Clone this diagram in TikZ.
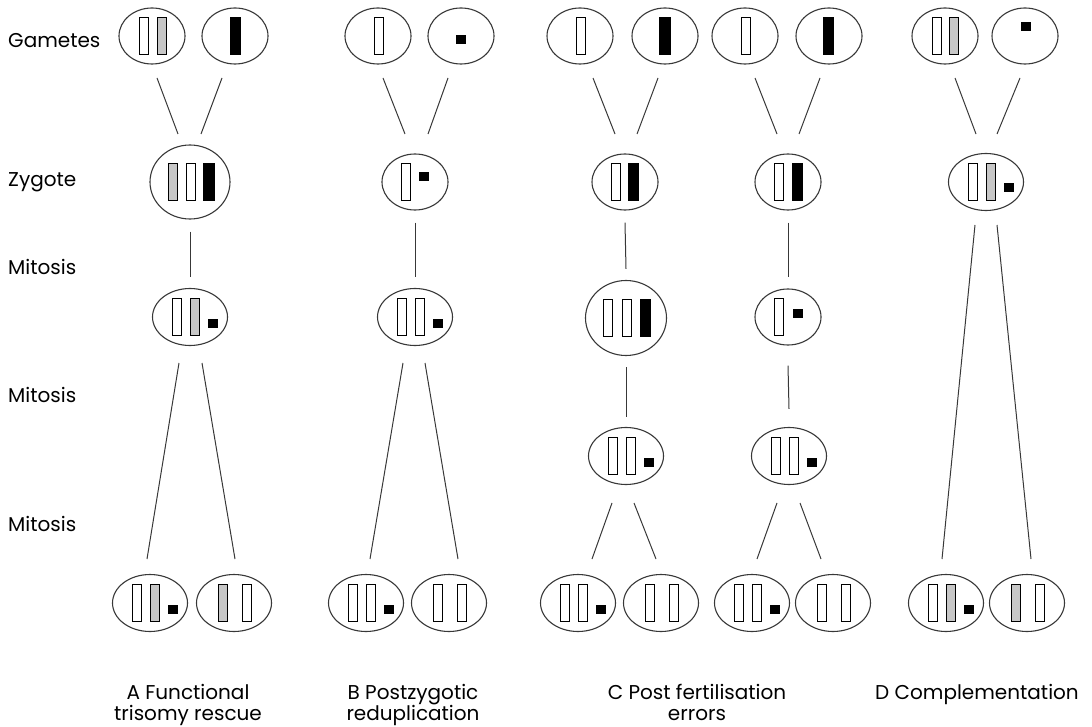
\documentclass[tikz,border=0pt]{standalone}
\usepackage{fontspec}
\setmainfont{Poppins}
\usetikzlibrary{calc, positioning, shapes.geometric}
\definecolor{LineGray}{gray}{0.22}
\definecolor{ChrGray}{gray}{0.78}

\begin{document}
\begin{tikzpicture}[x = 1pt, y = -1pt]%
    %
    \def\chrheight{37pt}%
    \def\chrwidth{9pt}%
    \def\labelsize{\fontsize{20}{21}\selectfont}%
    %
    \tikzstyle{cell} = [ellipse, draw = LineGray, line width = 1.1pt, inner sep = 0pt, minimum width = 75pt, minimum height = 57pt]%
    \tikzstyle{smallcell} = [cell, minimum width = 66pt, minimum height = 56pt]%
    \tikzstyle{bigcell} = [cell, minimum width = 81pt, minimum height = 75pt]%
    \tikzstyle{chr} = [rectangle, draw = black, line width = .9pt, inner sep = 0pt, minimum width = \chrwidth, minimum height = \chrheight, fill = white]%
    \tikzstyle{chrG} = [chr, fill = ChrGray]%
    \tikzstyle{chrK} = [chr, fill = black, minimum width = 10.5pt]%
    \tikzstyle{dot} = [rectangle, fill = black, inner sep = 0pt, minimum width = 10pt, minimum height = 9pt]%
    \tikzstyle{link} = [draw = LineGray, line width = 1pt]%
    \tikzstyle{rowlabel} = [anchor = base west, inner sep = 0pt, font = \labelsize]%
    \tikzstyle{caption} = [anchor = base, align = center, inner sep = 0pt, font = \labelsize]%
    %
    \useasboundingbox (0, 0) rectangle (1092, 727);%
    %
    % Row labels
    \node (lGametes) [rowlabel] at (8, 48) {Gametes};%
    \node (lZygote) [rowlabel] at (8, 187) {Zygote};%
    \node (lMitosisA) [rowlabel] at (8, 275) {Mitosis};%
    \node (lMitosisB) [rowlabel] at (8, 402) {Mitosis};%
    \node (lMitosisC) [rowlabel] at (8, 531) {Mitosis};%
    %
    % Gametes
    \node (gA1) [smallcell] at (152, 36) {};%
    \node (gA2) [smallcell] at (235, 36) {};%
    \node (gB1) [smallcell] at (378, 36) {};%
    \node (gB2) [smallcell] at (461, 36) {};%
    \node (gC1) [smallcell] at (580, 36) {};%
    \node (gC2) [smallcell] at (665, 36) {};%
    \node (gC3) [smallcell] at (745, 36) {};%
    \node (gC4) [smallcell] at (829, 36) {};%
    \node (gD1) [smallcell] at (945, 36) {};%
    \node (gD2) [smallcell] at (1025, 36) {};%
    %
    \node [chr] at ($(gA1)+(-8.5, 0)$) {};%
    \node [chrG] at ($(gA1)+(10, 0)$) {};%
    \node [chrK] at ($(gA2)+(0.5, 0)$) {};%
    \node [chr] at ($(gB1)+(0.5, 0)$) {};%
    \node [dot] at ($(gB2)+(0, 4)$) {};%
    \node [chr] at ($(gC1)+(1, 0)$) {};%
    \node [chrK] at ($(gC2)+(0, 0)$) {};%
    \node [chr] at ($(gC3)+(0.5, 0)$) {};%
    \node [chrK] at ($(gC4)+(-0.5, 0)$) {};%
    \node [chr] at ($(gD1)+(-8, 0)$) {};%
    \node [chrG] at ($(gD1)+(9, 0)$) {};%
    \node [dot] at ($(gD2)+(0.5, -9)$) {};%
    %
    % Zygotes
    \node (zA) [bigcell, minimum width = 80pt, minimum height = 74pt] at (190, 182) {};%
    \node (zB) [smallcell] at (415, 182) {};%
    \node (zC1) [smallcell] at (625, 182) {};%
    \node (zC2) [smallcell] at (788, 182) {};%
    \node (zD) [cell] at (986, 182) {};%
    %
    \node [chrG] at ($(zA)+(-17.5, 0)$) {};%
    \node [chr] at ($(zA)+(1, 0)$) {};%
    \node [chrK] at ($(zA)+(19, 0)$) {};%
    \node [chr] at ($(zB)+(-9, 0)$) {};%
    \node [dot] at ($(zB)+(9, -5)$) {};%
    \node [chr] at ($(zC1)+(-9, 0)$) {};%
    \node [chrK] at ($(zC1)+(8.5, 0)$) {};%
    \node [chr] at ($(zC2)+(-9, 0)$) {};%
    \node [chrK] at ($(zC2)+(9.5, 0)$) {};%
    %
    % First mitosis
    \node (mA) [cell] at (190, 317) {};%
    \node (mB) [cell] at (415, 317) {};%
    \node (mC1) [bigcell] at (626, 318) {};%
    \node (mC2) [smallcell] at (788, 317) {};%
    %
    \node [chr] at ($(mC1)+(-18, 0)$) {};%
    \node [chr] at ($(mC1)+(1, 0)$) {};%
    \node [chrK] at ($(mC1)+(19.5, 0)$) {};%
    \node [chr] at ($(mC2)+(-9, 0)$) {};%
    \node [dot] at ($(mC2)+(9.5, -4)$) {};%
    %
    % Second mitosis
    \node (nC1) [cell] at (626, 456) {};%
    \node (nC2) [cell] at (789, 456) {};%
    %
    % Daughter cells
    \node (bA1) [cell] at (150, 603) {};%
    \node (bA2) [cell] at (234, 603) {};%
    \node (bB1) [cell] at (366, 603) {};%
    \node (bB2) [cell] at (449, 603) {};%
    \node (bC1) [cell] at (578, 603) {};%
    \node (bC2) [cell] at (661, 603) {};%
    \node (bC3) [cell] at (752, 603) {};%
    \node (bC4) [cell] at (833, 603) {};%
    \node (bD1) [cell] at (946, 603) {};%
    \node (bD2) [cell] at (1027, 603) {};%
    %
    % Two chromosomes and a fragment
    \foreach \c/\f in {zD/ChrGray, mA/ChrGray, mB/white, nC1/white, nC2/white, bA1/ChrGray, bB1/white, bC1/white, bC3/white, bD1/ChrGray} {%
        \node [chr] at ($(\c)+(-13, 0)$) {};%
        \node [chr, fill = \f] at ($(\c)+(5, 0)$) {};%
        \node [dot] at ($(\c)+(23, 6)$) {};%
    }%
    %
    % Two chromosomes
    \foreach \c/\f in {bA2/ChrGray, bB2/white, bC2/white, bC4/white, bD2/ChrGray} {%
        \node [chr, fill = \f] at ($(\c)+(-11, 0)$) {};%
        \node [chr] at ($(\c)+(13, 0)$) {};%
    }%
    %
    % Fertilisation
    \foreach \g/\dg/\z/\dz in {gA1/5/zA/-12, gA2/-13/zA/11, gB1/5/zB/-10, gB2/-13/zB/13, gC1/13/zC1/-10, gC2/-7/zC1/12, gC3/10/zC2/-11, gC4/-9/zC2/11, gD1/10/zD/-10, gD2/-5/zD/11}%
        \draw [link] ($(\g)+(\dg, 42)$) -- ($(\z)+(\dz, -48)$);%
    %
    % Mitosis
    \foreach \z/\m in {zA/mA, zB/mB, zC1/mC1, zC2/mC2}%
        \draw [link] ($(\z.south)+(0, 12)$) -- ($(\m.north)+(0, -11)$);%
    \draw [link] ($(mC1.south)+(0, 11)$) -- ($(nC1.north)+(0, -10)$);%
    \draw [link] ($(mC2.south)+(0, 20)$) -- ($(nC2.north)+(0, -18)$);%
    \foreach \p/\dp/\py/\b/\db in {mA/-11/46/bA1/-3, mA/12/46/bA2/1, mB/-12/46/bB1/4, mB/10/46/bB2/9, nC1/-14/47/bC1/14, nC1/8/47/bC2/-5, nC2/-12/47/bC3/5, nC2/11/47/bC4/-12, zD/-11/43/bD1/-4, zD/11/43/bD2/4}%
        \draw [link] ($(\p)+(\dp, \py)$) -- ($(\b)+(\db, -44)$);%
    %
    % Captions
    \node (capA) [caption] at (188, 720) {A Functional\\trisomy rescue};%
    \node (capB) [caption] at (413, 720) {B Postzygotic\\reduplication};%
    \node (capC) [caption] at (697, 720) {C Post fertilisation\\errors};%
    \node (capD) [caption] at (977, 699) {D Complementation};%
    %
\end{tikzpicture}
\end{document}
